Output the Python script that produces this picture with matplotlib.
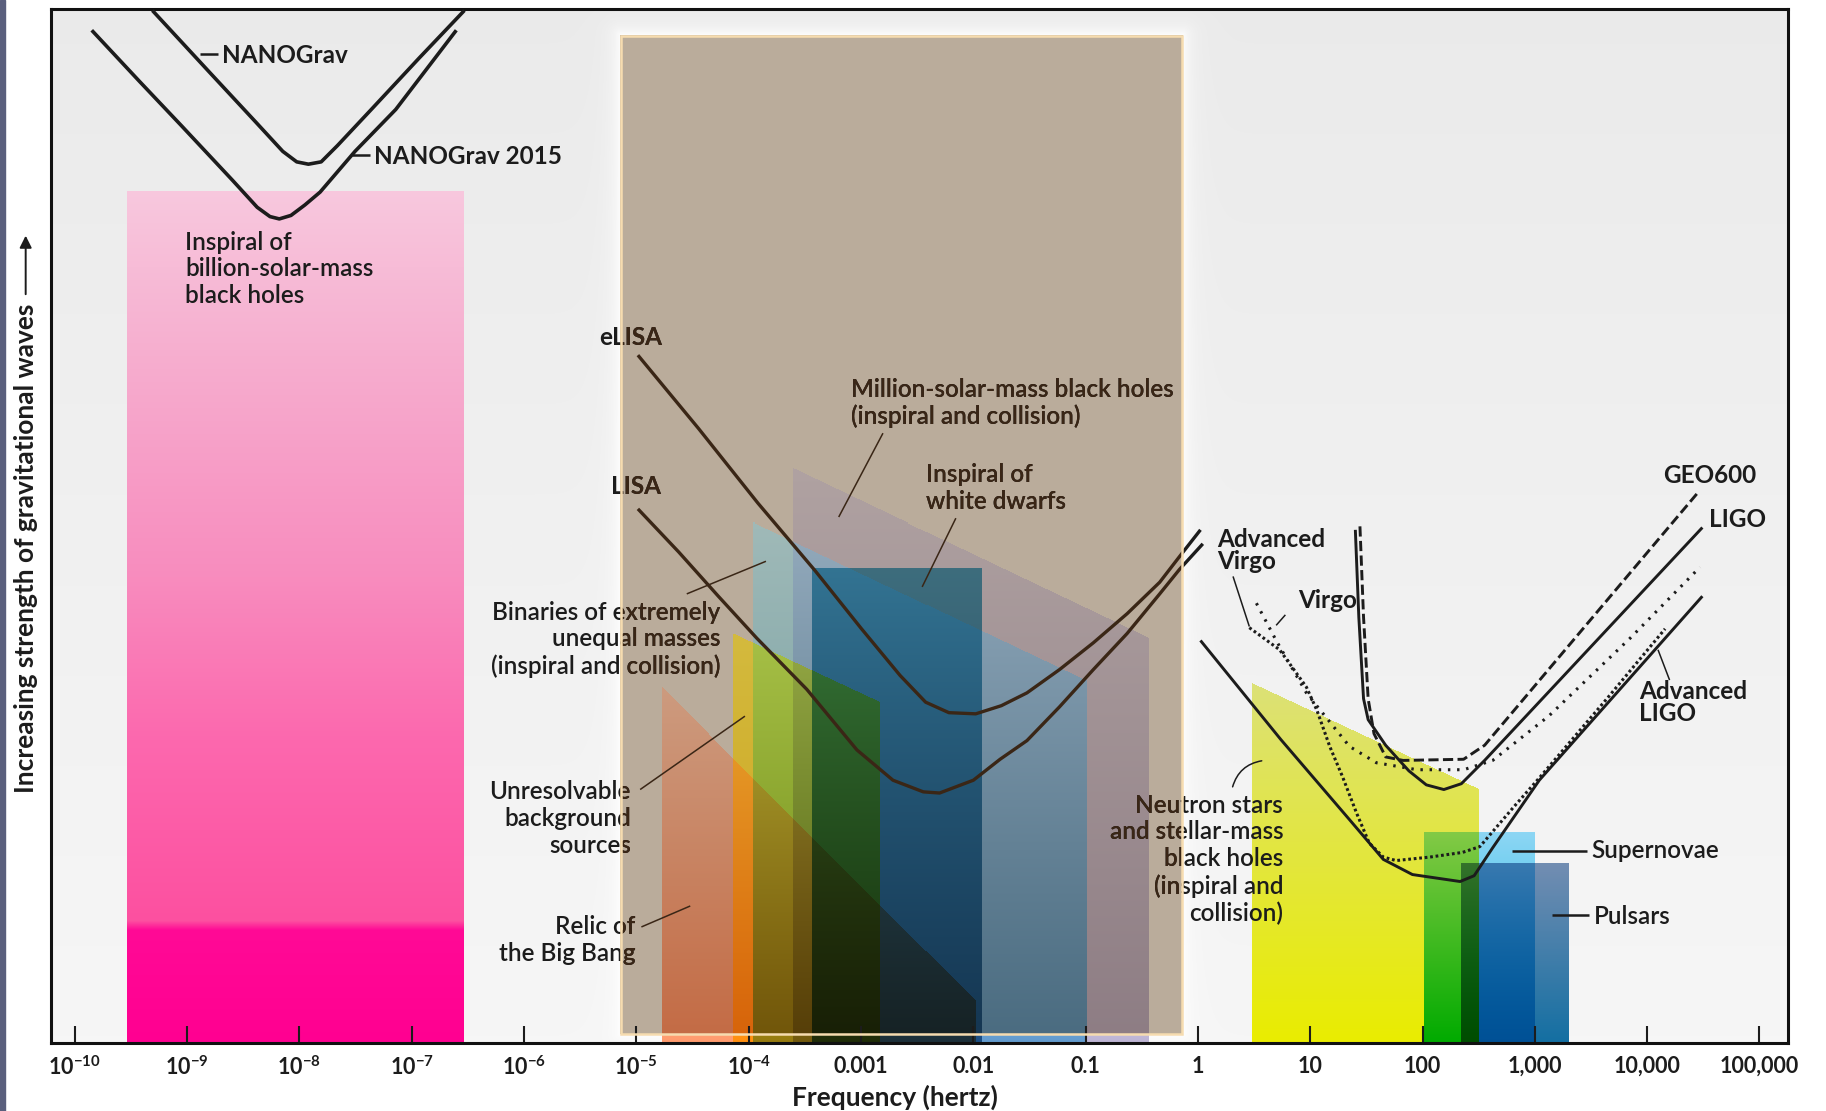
import numpy as np
import matplotlib
matplotlib.use('Agg')
import matplotlib.pyplot as plt
from matplotlib.path import Path
from matplotlib.patches import Rectangle, PathPatch

plt.rcParams['font.family'] = ['Lato', 'DejaVu Sans']
plt.rcParams['mathtext.fontset'] = 'custom'
plt.rcParams['mathtext.rm'] = 'Lato:bold'
plt.rcParams['mathtext.it'] = 'Lato:italic'
plt.rcParams['mathtext.bf'] = 'Lato:bold'

# ── Data: x = log10(frequency / Hz), y = relative strength (arbitrary units, 0 at the axis) ──
XLIM = (-10.21, 5.25)
YLIM = (0, 888)

tick_logf = [-10, -9, -8, -7, -6, -5, -4, -3, -2, -1, 0, 1, 2, 3, 4, 5]
tick_text = ['10$^{-10}$', '10$^{-9}$', '10$^{-8}$', '10$^{-7}$', '10$^{-6}$', '10$^{-5}$',
             '10$^{-4}$', '0.001', '0.01', '0.1', '1', '10', '100', '1,000', '10,000', '100,000']

# source regions: [left, right] edge (log10 Hz) and height of the top edge at left / right
bh_billion_logf = [-9.53, -6.53];  bh_billion_top = [731, 731]
bh_million_logf = [-3.60, -0.44];  bh_million_top = [493, 348]
unequal_logf = [-3.96, -0.99];     unequal_top = [447, 311]
dwarfs_logf = [-3.43, -1.93];      dwarfs_top = [408, 408]
background_logf = [-4.14, -2.83];  background_top = [352, 293]
relic_logf = [-4.77, -1.98];       relic_top = [306, 36]
neutron_logf = [0.48, 2.50];       neutron_top = [309, 218]
supernova_logf = [2.01, 3.00];     supernova_top = [181, 181]
pulsar_logf = [2.34, 3.30];        pulsar_top = [155, 155]

# space-detector band (LISA / eLISA)
lisa_band_logf = [-5.14, -0.14]
lisa_band_y = [8, 865]

# detector sensitivity curves
nanograv_logf = [-9.309, -8.801, -8.387, -8.148, -8.024, -7.920, -7.806, -7.661, -7.350, -6.935, -6.531]
nanograv_y = [887, 834, 791, 766, 757, 755, 757, 771, 803, 846, 887]

nanograv15_logf = [-9.849, -9.423, -9.050, -8.594, -8.376, -8.262, -8.179, -8.075, -7.951, -7.816,
                   -7.505, -7.142, -6.603]
nanograv15_y = [870, 826, 788, 741, 718, 710, 708, 711, 720, 731, 766, 802, 870]

elisa_logf = [-4.986, -4.446, -3.918, -3.409, -2.995, -2.652, -2.424, -2.217, -1.978, -1.750,
              -1.522, -1.232, -0.931, -0.630, -0.340, -0.164, 0.023]
elisa_y = [591, 528, 464, 406, 356, 316, 293, 284, 283, 290, 301, 321, 344, 369, 396, 418, 441]

lisa_logf = [-4.986, -4.623, -4.270, -3.928, -3.482, -3.036, -2.715, -2.445, -2.300, -1.999,
             -1.761, -1.522, -1.232, -0.931, -0.630, -0.340, -0.164, 0.044]
lisa_y = [459, 422, 384, 348, 304, 252, 226, 216, 215, 226, 244, 260, 289, 321, 352, 386, 407, 429]

adv_ligo_logf = [0.023, 0.738, 1.360, 1.651, 1.910, 2.335, 2.460, 2.625, 3.040, 4.492]
adv_ligo_y = [346, 261, 191, 158, 145, 139, 144, 168, 226, 384]

ligo_logf = [1.402, 1.433, 1.475, 1.516, 1.672, 1.879, 2.034, 2.190, 2.346, 2.553, 4.492]
ligo_y = [441, 366, 296, 278, 256, 234, 222, 218, 223, 243, 443]

geo600_logf = [1.443, 1.475, 1.516, 1.568, 1.672, 1.827, 2.366, 2.553, 4.461]
geo600_y = [444, 366, 296, 266, 246, 243, 244, 256, 474]

virgo_logf = [0.521, 0.697, 0.966, 1.350, 1.589, 1.952, 2.366, 2.625, 3.123, 3.849, 4.471]
virgo_y = [378, 346, 301, 255, 241, 235, 235, 243, 281, 348, 409]

adv_virgo_logf = [0.458, 0.728, 0.966, 1.060, 1.174, 1.288, 1.412, 1.526, 1.651, 1.765, 2.066,
                  2.356, 2.511, 2.812, 3.040, 3.642, 4.160]
adv_virgo_y = [357, 338, 306, 286, 255, 229, 198, 172, 160, 157, 160, 164, 169, 203, 228, 296, 356]

INK = '#1c1c1c'
BROWN = '#3a2616'
FS = 17.5

fig = plt.figure(figsize=(18.26, 11.11), dpi=100)
fig.patch.set_facecolor('white')
fig.add_artist(Rectangle((0, 0), 5 / 1826, 1, transform=fig.transFigure, color='#5a5f7d', zorder=0))
ax = fig.add_axes([0.02804, 0.06085, 0.95088, 0.93078])
ax.set_xlim(*XLIM)
ax.set_ylim(*YLIM)

# ── raster of the shaded regions (multiply blending, vertical gradients) ──
nx, ny = 1736, 1034
gx = XLIM[0] + (np.arange(nx) + 0.5) / nx * (XLIM[1] - XLIM[0])
gy = YLIM[0] + (np.arange(ny) + 0.5) / ny * (YLIM[1] - YLIM[0])
X, Y = np.meshgrid(gx, gy)
pts = np.column_stack([X.ravel(), Y.ravel()])

shade = 0.965 - 0.045 * (Y / YLIM[1])
img = np.repeat(shade[..., None], 3, axis=2)

bx0, bx1 = lisa_band_logf
by0, by1 = lisa_band_y
sx = nx / (XLIM[1] - XLIM[0])
sy = ny / (YLIM[1] - YLIM[0])
dx = np.maximum(np.maximum(bx0 - X, X - bx1), 0) * sx
dy = np.maximum(np.maximum(by0 - Y, Y - by1), 0) * sy
glow = 0.85 * np.exp(-np.hypot(dx, dy) / 9.0)
img += (1 - img) * glow[..., None]
inside = (X >= bx0) & (X <= bx1) & (Y >= by0) & (Y <= by1)
img[inside] = np.array([186, 172, 155]) / 255


def region_mask(logf, top):
    verts = [(logf[0], 0), (logf[1], 0), (logf[1], top[1]), (logf[0], top[0])]
    return Path(verts).contains_points(pts).reshape(X.shape)


def paint(logf, top, ys, cols, mode='multiply'):
    m = region_mask(logf, top)
    cols = np.array(cols, dtype=float) / 255
    c = np.stack([np.interp(Y[m], ys, cols[:, k]) for k in range(3)], axis=1)
    if mode == 'multiply':
        img[m] = img[m] * c
    else:
        img[m] = c


paint(bh_billion_logf, bh_billion_top, [0, 97, 105, 260, 400, 600, 731],
      [(255, 0, 145), (255, 10, 150), (253, 80, 160), (252, 104, 174), (248, 140, 190),
       (246, 176, 208), (248, 200, 222)], mode='replace')
paint(bh_million_logf, bh_million_top, [0, 493], [(194, 185, 217), (241, 240, 266)])
paint(unequal_logf, unequal_top, [0, 447], [(133, 219, 247), (219, 275, 303)])
paint(dwarfs_logf, dwarfs_top, [0, 408], [(71, 128, 163), (92, 179, 204)])
paint(background_logf, background_top, [0, 352], [(280, 236, 38), (290, 276, 102)])
paint(relic_logf, relic_top, [0, 306], [(268, 158, 112), (281, 230, 209)])
paint(neutron_logf, neutron_top, [0, 309], [(242, 245, 0), (232, 237, 125)])
paint(supernova_logf, supernova_top, [0, 181], [(0, 184, 235), (148, 224, 255)])
paint(pulsar_logf, pulsar_top, [0, 155], [(20, 115, 168), (120, 148, 186)])

ax.imshow(np.clip(img, 0, 1), extent=(*XLIM, *YLIM), origin='lower', aspect='auto',
          interpolation='nearest', zorder=0)

# clip paths: inside the LISA band things look brown, outside black
inside_clip = Rectangle((bx0, by0), bx1 - bx0, by1 - by0, transform=ax.transData)
ox0, ox1, oy0, oy1 = XLIM[0] - 1, XLIM[1] + 1, -100, 1000
out_path = Path([(ox0, oy0), (ox1, oy0), (ox1, oy1), (ox0, oy1), (ox0, oy0),
                 (bx0, by0), (bx0, by1), (bx1, by1), (bx1, by0), (bx0, by0)],
                [Path.MOVETO, Path.LINETO, Path.LINETO, Path.LINETO, Path.CLOSEPOLY] * 2)
outside_clip = PathPatch(out_path, transform=ax.transData)


def curve(x, y, **kw):
    for color, clip in ((INK, outside_clip), (BROWN, inside_clip)):
        ln, = ax.plot(x, y, color=color, zorder=3, solid_capstyle='butt',
                      solid_joinstyle='round', **kw)
        ln.set_clip_path(clip)


def label(x, y, s, **kw):
    kw.setdefault('fontsize', FS)
    kw.setdefault('va', 'center')
    kw.setdefault('weight', 'bold')
    for color, clip in ((INK, outside_clip), (BROWN, inside_clip)):
        t = ax.text(x, y, s, color=color, clip_on=True, zorder=4, **kw)
        t.set_clip_path(clip)


# detector curves
curve(nanograv_logf, nanograv_y, lw=2.6)
curve(nanograv15_logf, nanograv15_y, lw=2.6)
curve(elisa_logf, elisa_y, lw=2.4)
curve(lisa_logf, lisa_y, lw=2.4)
curve(adv_ligo_logf, adv_ligo_y, lw=2.1)
curve(ligo_logf, ligo_y, lw=2.1)
curve(geo600_logf, geo600_y, lw=2.1, ls=(0, (3.5, 1.5)))
curve(virgo_logf, virgo_y, lw=2.2, ls=(0, (0.8, 2.2)))
curve(adv_virgo_logf, adv_virgo_y, lw=2.2, ls=(0, (0.9, 0.9)))

# leader lines
curve([-8.884, -8.728], [850, 850], lw=1.8)
curve([-7.536, -7.370], [763, 763], lw=1.8)
curve([-2.804, -3.198], [524, 452], lw=1.1)
curve([-2.155, -2.455], [451, 392], lw=1.1)
curve([-4.551, -3.846], [386, 414], lw=1.1)
curve([-4.966, -4.033], [218, 281], lw=1.1)
curve([-4.955, -4.520], [100, 118], lw=1.1)
curve([0.313, 0.458], [401, 358], lw=1.1)
curve([0.779, 0.697], [368, 359], lw=1.1)
curve([4.200, 4.097], [312, 338], lw=1.1)
curve([2.798, 3.462], [165, 165], lw=1.8)
curve([3.154, 3.486], [110, 110], lw=1.8)
ax.annotate('', xy=(0.593, 243), xytext=(0.303, 218), zorder=3,
            arrowprops=dict(arrowstyle='-', color=INK, lw=1.1, connectionstyle='arc3,rad=-0.35'))

# labels: detectors and sources
label(-8.687, 848, 'NANOGrav')
label(-7.339, 762, 'NANOGrav 2015')
label(-5.328, 606, 'eLISA')
label(-5.224, 478, 'LISA')
label(0.168, 423.5, 'Advanced\nVirgo', linespacing=0.95)
label(0.894, 380, 'Virgo')
label(4.139, 488, 'GEO600')
label(4.554, 450, 'LIGO')
label(3.932, 293, 'Advanced\nLIGO', linespacing=0.95)

label(-9.019, 665, 'Inspiral of\nbillion-solar-mass\nblack holes', weight='semibold')
label(-3.088, 550, 'Million-solar-mass black holes\n(inspiral and collision)', weight='semibold')
label(-2.424, 477, 'Inspiral of\nwhite dwarfs', weight='semibold')
label(-4.249, 347, 'Binaries of extremely\nunequal masses\n(inspiral and collision)',
      ha='right', multialignment='right', weight='semibold')
label(-5.048, 193, 'Unresolvable\nbackground\nsources', ha='right', multialignment='right',
      weight='semibold')
label(-5.006, 88.5, 'Relic of\nthe Big Bang', ha='right', multialignment='right', weight='semibold')
label(0.759, 158, 'Neutron stars\nand stellar-mass\nblack holes\n(inspiral and\ncollision)',
      ha='right', multialignment='right', weight='semibold')
label(3.507, 166, 'Supernovae', weight='semibold')
label(3.528, 109, 'Pulsars', weight='semibold')

# outline of the LISA band
ax.add_patch(Rectangle((bx0, by0), bx1 - bx0, by1 - by0, fill=False, ec='#f6dcb0', lw=1.8, zorder=5))

# axes
ax.set_xticks(tick_logf)
ax.set_xticklabels(tick_text, weight='bold')
ax.set_yticks([])
ax.tick_params(axis='x', direction='in', length=12, width=1.5, color=INK, pad=9,
               labelsize=15.5, labelcolor=INK)
for s in ax.spines.values():
    s.set_linewidth(2.2)
    s.set_color('#111111')
ax.set_xlabel('Frequency (hertz)', fontsize=19, weight='bold', color=INK, x=0.486, labelpad=4)
ax.text(-0.0147, 0.4786, 'Increasing strength of gravitational waves', transform=ax.transAxes,
        rotation=90, ha='center', va='center', fontsize=19, weight='bold', color=INK)
ax.annotate('', xy=(-0.0147, 0.7838), xytext=(-0.0147, 0.7218), xycoords='axes fraction',
            textcoords='axes fraction', annotation_clip=False,
            arrowprops=dict(arrowstyle='-|>', color=INK, lw=1.4, mutation_scale=18))

fig.savefig('out.png', dpi=100)
